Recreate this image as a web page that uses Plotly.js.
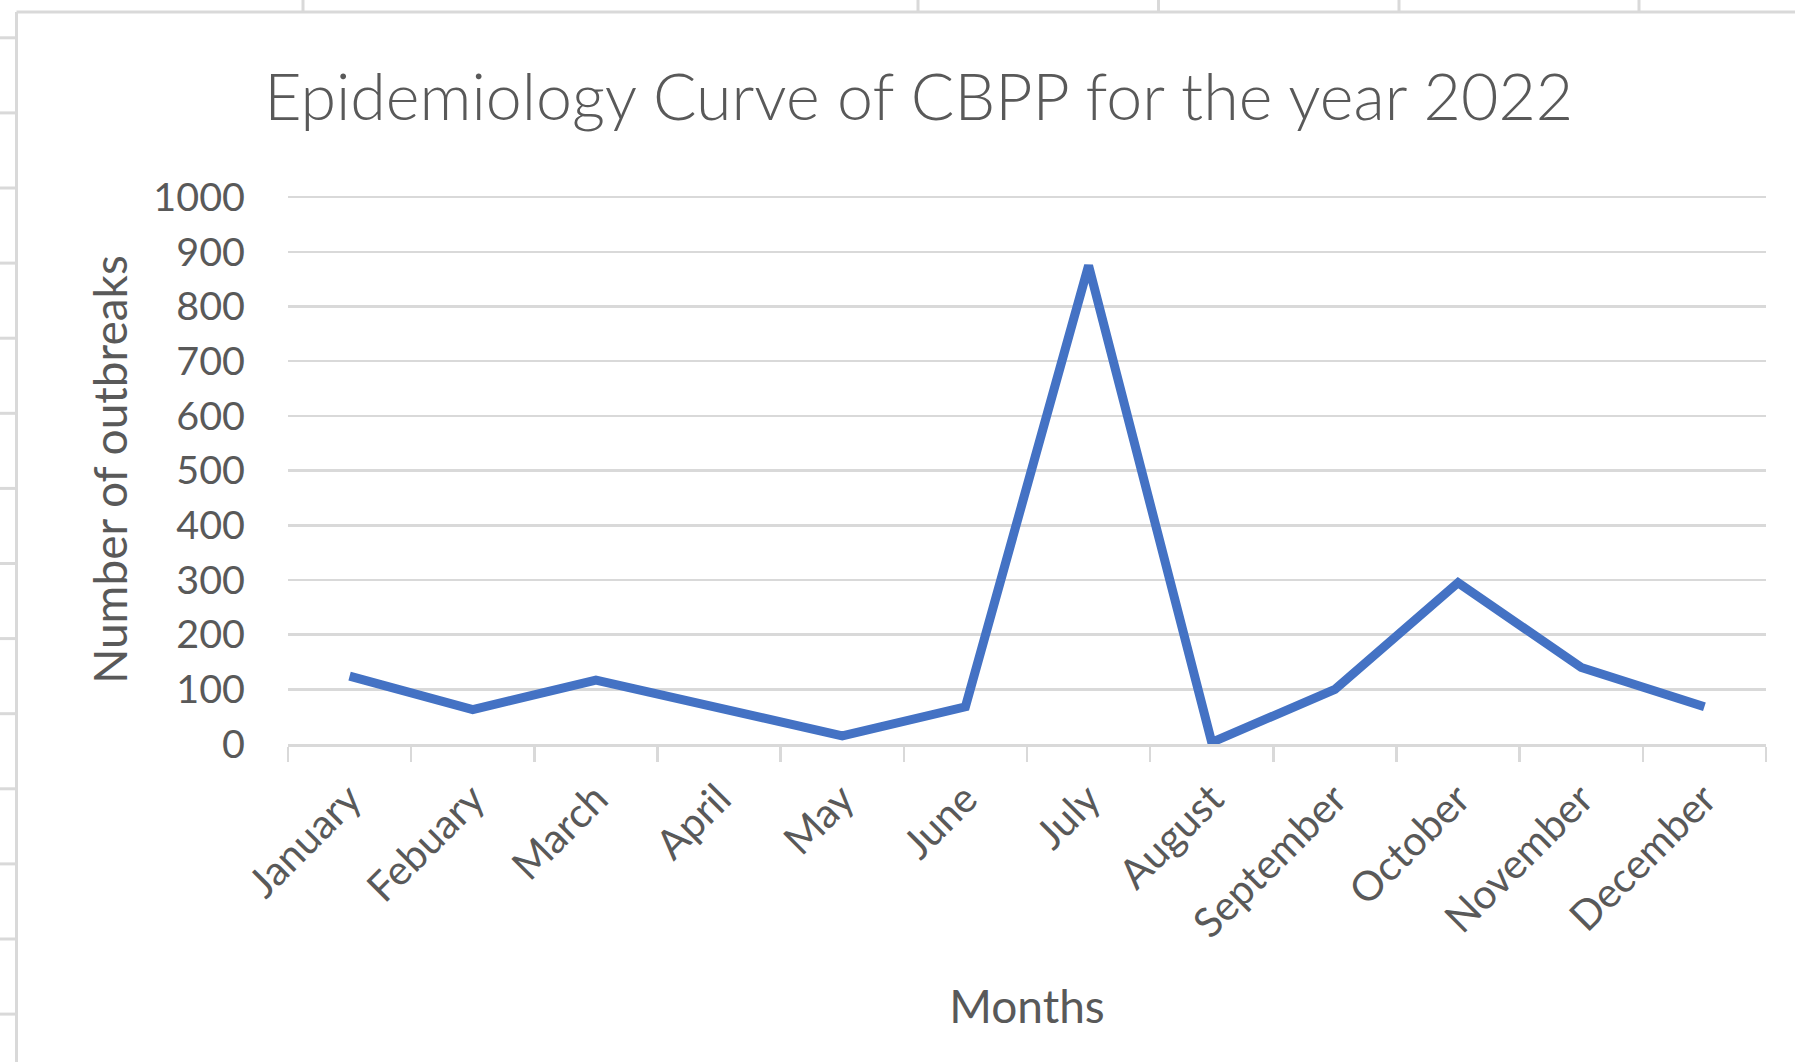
<!DOCTYPE html>
<html>
<head>
<meta charset="utf-8">
<script src="https://cdn.plot.ly/plotly-3.0.1.min.js"></script>
<style>
  html, body { margin: 0; padding: 0; background: #ffffff; }
  #chart { width: 1795px; height: 1062px; }
</style>
</head>
<body>
<div id="chart"></div>
<script>
// ---- data ----
const months = ["January", "Febuary", "March", "April", "May", "June",
                "July", "August", "September", "October", "November", "December"];
const outbreaks = [124, 63, 117, 66, 15, 68, 875, 3, 100, 295, 140, 68];
const yTickValues = [0, 100, 200, 300, 400, 500, 600, 700, 800, 900, 1000];

const titleText = "Epidemiology Curve of CBPP for the year 2022";
const xTitleText = "Months";
const yTitleText = "Number of outbreaks";

// ---- layout geometry (pixels) ----
const W = 1795, H = 1062;
const mL = 288, mR = 29, mT = 195, mB = 318;
const plotW = W - mL - mR, plotH = H - mT - mB;
const px = x => (x - mL) / plotW;          // pixel x -> paper x
const py = y => (H - mB - y) / plotH;      // pixel y -> paper y

const gridGrey = "#d9d9d9";
const textGrey = "#595959";
const FONT = "Lato, 'Open Sans', sans-serif";

// spreadsheet frame / cell borders around the chart object
const shapes = [];
shapes.push({type: "line", xref: "paper", yref: "paper", x0: px(16.5), x1: px(W + 5), y0: py(12), y1: py(12),
             line: {color: gridGrey, width: 3}});
shapes.push({type: "line", xref: "paper", yref: "paper", x0: px(16.5), x1: px(16.5), y0: py(12), y1: py(H + 5),
             line: {color: gridGrey, width: 3}});
[303, 918, 1158.5, 1399, 1639].forEach(x => {
  shapes.push({type: "line", xref: "paper", yref: "paper", x0: px(x), x1: px(x), y0: py(-2), y1: py(12),
               line: {color: gridGrey, width: 3}});
});
for (let k = 0; k < 14; k++) {
  const y = 37.8 + 75.1 * k;
  shapes.push({type: "line", xref: "paper", yref: "paper", x0: px(-2), x1: px(16.5), y0: py(y), y1: py(y),
               line: {color: gridGrey, width: 3}});
}

const trace = {
  type: "scatter",
  mode: "lines",
  x: months,
  y: outbreaks,
  line: {color: "#4472C4", width: 9, shape: "linear"},
  hoverinfo: "skip",
  showlegend: false
};

const layout = {
  width: W, height: H,
  paper_bgcolor: "#ffffff",
  plot_bgcolor: "#ffffff",
  margin: {l: mL, r: mR, t: mT, b: mB, pad: 0},
  showlegend: false,
  font: {family: FONT, color: textGrey},
  title: {
    text: titleText,
    xref: "container", yref: "container",
    x: 918.7 / W, xanchor: "center",
    y: 1 - 97 / H, yanchor: "middle",
    font: {family: FONT, size: 64.5, color: textGrey, weight: 300}
  },
  xaxis: {
    type: "category",
    range: [-0.5, 11.5],
    automargin: false,
    showgrid: false,
    zeroline: false,
    showline: true,
    linecolor: gridGrey,
    linewidth: 2.5,
    ticks: "outside",
    tickson: "boundaries",
    ticklen: 15,
    tickwidth: 2.5,
    tickcolor: gridGrey,
    tickangle: -45,
    ticklabelstandoff: 12,
    tickfont: {family: FONT, size: 41, color: textGrey},
    title: {text: xTitleText, standoff: 45, font: {family: FONT, size: 46, color: textGrey}},
    fixedrange: true
  },
  yaxis: {
    range: [0, 1004],
    tickvals: yTickValues,
    automargin: false,
    showgrid: true,
    gridcolor: gridGrey,
    gridwidth: 2.5,
    zeroline: false,
    showline: false,
    ticks: "",
    ticklabelstandoff: 42,
    tickfont: {family: FONT, size: 39.5, color: textGrey},
    title: {text: yTitleText, standoff: 11, font: {family: FONT, size: 46, color: textGrey}},
    fixedrange: true
  },
  shapes: shapes
};

Plotly.newPlot("chart", [trace], layout, {staticPlot: true, displayModeBar: false});
</script>
</body>
</html>
